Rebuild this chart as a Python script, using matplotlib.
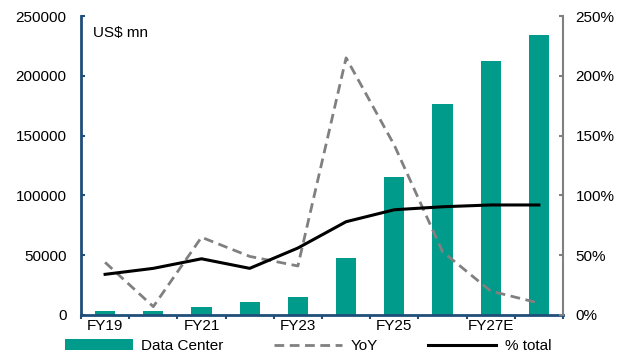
import matplotlib
matplotlib.use("Agg")
import matplotlib.pyplot as plt
from matplotlib.ticker import FixedLocator, FuncFormatter
import numpy as np

categories = ["FY19", "FY20", "FY21", "FY22", "FY23", "FY24", "FY25", "FY26E", "FY27E", "FY28E"]
tick_labels = ["FY19", "", "FY21", "", "FY23", "", "FY25", "", "FY27E", ""]
data_center = [2932, 2983, 6696, 10613, 15005, 47525, 115186, 176400, 212400, 234100]
yoy = [44, 7, 65, 49, 41, 215, 142, 53, 20, 10]
pct_total = [34, 39, 47, 39, 56, 78, 88, 90.5, 92, 92]

plt.rcParams['font.family'] = ['Liberation Sans', 'DejaVu Sans']
plt.rcParams['font.size'] = 11

fig = plt.figure(figsize=(6.25, 3.56), dpi=100)
ax = fig.add_axes([81/625, 41/356, (563-81)/625, (315-16)/356])
ax2 = ax.twinx()

x = np.arange(len(categories))
teal = "#009B8A"
navy = "#1F4E79"

b = ax.bar(x, data_center, width=0.42, color=teal, label="Data Center", zorder=2)
l1, = ax2.plot(x, yoy, color="#808080", lw=2, ls=(0, (3.5, 2)), label="YoY", zorder=3)
l2, = ax2.plot(x, pct_total, color="black", lw=2.2, label="% total", zorder=4)

ax.set_xlim(-0.5, len(categories) - 0.5)
ax.set_ylim(0, 250000)
ax.set_yticks(np.arange(0, 250001, 50000))
ax2.set_ylim(0, 250)
ax2.set_yticks(np.arange(0, 251, 50))
ax2.yaxis.set_major_formatter(FuncFormatter(lambda v, p: f"{int(v)}%"))

ax.xaxis.set_major_locator(FixedLocator(np.arange(-0.5, len(categories), 1.0)))
ax.xaxis.set_major_formatter(FuncFormatter(lambda v, p: ""))
ax.set_xticks(x, tick_labels, minor=True)
ax.tick_params(axis='x', which='major', direction='out', length=3, width=1.5, color=navy)
ax.tick_params(axis='x', which='minor', length=0, pad=3, labelsize=11)

ax.tick_params(axis='y', direction='in', length=3, width=1.5, color=navy, labelsize=11, pad=10.5)
ax2.tick_params(axis='y', direction='in', length=3, width=1.5, color="#808080", labelsize=11, pad=9)

for a in (ax, ax2):
    a.spines['top'].set_visible(False)
ax.spines['left'].set_color(navy)
ax.spines['left'].set_linewidth(2)
ax.spines['bottom'].set_color(navy)
ax.spines['bottom'].set_linewidth(2)
ax.spines['right'].set_visible(False)
ax2.spines['left'].set_visible(False)
ax2.spines['bottom'].set_visible(False)
ax2.spines['right'].set_color("#808080")
ax2.spines['right'].set_linewidth(1.5)

ax.text(0.025, 0.965, "US$ mn", transform=ax.transAxes, ha='left', va='top', fontsize=11)

fig.legend([b, l1, l2], ["Data Center", "YoY", "% total"], loc='center',
           bbox_to_anchor=(0.493, 0.028), ncol=3, frameon=False, fontsize=11,
           handlelength=4.45, handletextpad=0.55, columnspacing=3.3)

fig.savefig("out.png", dpi=100)
